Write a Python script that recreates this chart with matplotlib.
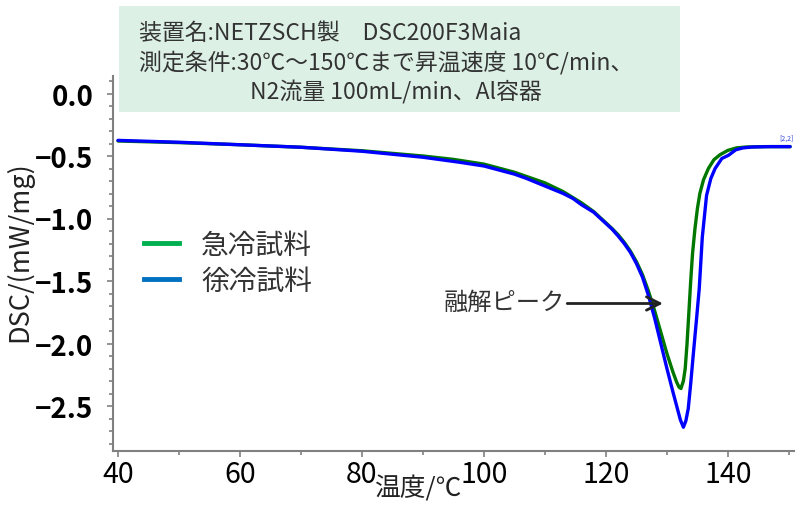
import matplotlib
matplotlib.use("Agg")
import matplotlib.pyplot as plt
from matplotlib.lines import Line2D
from matplotlib.ticker import MultipleLocator

plt.rcParams['font.family'] = ['Noto Sans CJK JP', 'DejaVu Sans']

# ---- data ----
temp_quench = [40, 50, 60, 70, 80, 90, 95, 100, 105, 110, 113, 116, 118, 120, 121, 122,
               123, 124, 125, 126, 127, 128, 129, 130, 131, 131.6, 132.0, 132.3, 132.7,
               133.0, 133.3, 133.6, 133.9, 134.2, 134.6, 135.0, 135.4, 136.0, 136.8,
               137.7, 138.7, 140.0, 141.4, 143.0, 146.0, 150.2]
dsc_quench = [-0.38, -0.393, -0.41, -0.43, -0.458, -0.50, -0.527, -0.565, -0.63, -0.715,
              -0.785, -0.875, -0.945, -1.035, -1.08, -1.13, -1.19, -1.26, -1.345, -1.45,
              -1.585, -1.74, -1.91, -2.08, -2.23, -2.31, -2.35, -2.36, -2.30, -2.20,
              -2.00, -1.75, -1.50, -1.28, -1.08, -0.92, -0.80, -0.69, -0.60, -0.53,
              -0.49, -0.455, -0.435, -0.428, -0.425, -0.425]

temp_slow = [40, 50, 60, 70, 80, 90, 96, 100, 105, 107, 110, 113, 114.6, 116, 118, 119,
             120, 121, 122, 123, 124, 125, 126, 127, 128, 129, 130, 131, 131.6, 132.2,
             132.7, 133.1, 133.5, 133.9, 134.3, 134.9, 135.3, 135.8, 136.5, 137.2,
             137.9, 139.0, 140.1, 141.3, 142.5, 144.0, 147.0, 150.2]
dsc_slow = [-0.375, -0.39, -0.41, -0.43, -0.462, -0.51, -0.55, -0.58, -0.645, -0.68,
            -0.74, -0.80, -0.84, -0.89, -0.95, -0.995, -1.04, -1.085, -1.14, -1.20,
            -1.27, -1.36, -1.47, -1.62, -1.80, -2.00, -2.20, -2.39, -2.50, -2.61,
            -2.67, -2.62, -2.52, -2.32, -2.10, -1.78, -1.56, -1.15, -0.815, -0.68,
            -0.60, -0.52, -0.494, -0.45, -0.435, -0.428, -0.425, -0.425]

legend_labels = ['急冷試料', '徐冷試料']
legend_colors = ['#00B050', '#0070C0']
xlabel = '温度/℃'
ylabel = 'DSC/(mW/mg)'
info_lines = ['装置名:NETZSCH製\u3000DSC200F3Maia',
              '測定条件:30℃～150℃まで昇温速度 10℃/min、',
              'N2流量 100mL/min、Al容器']
peak_label = '融解ピーク'

# ---- figure ----
W, H = 795, 506
fig = plt.figure(figsize=(W / 100, H / 100), dpi=100)
ax = fig.add_axes([113 / W, 1 - 452 / H, (W - 113) / W, (452 - 77) / H])

ax.plot(temp_quench, dsc_quench, color='#007800', lw=2.4, solid_capstyle='round',
        solid_joinstyle='round', zorder=3)
ax.plot(temp_slow, dsc_slow, color='#0000FF', lw=2.4, solid_capstyle='round',
        solid_joinstyle='round', zorder=4)

ax.set_xlim(39.18, 151.0)
ax.set_ylim(-2.86, 0.14)

for s in ['top', 'right']:
    ax.spines[s].set_visible(False)
for s in ['left', 'bottom']:
    ax.spines[s].set_color('#808080')
    ax.spines[s].set_linewidth(1.5)

ax.xaxis.set_major_locator(MultipleLocator(20))
ax.xaxis.set_minor_locator(MultipleLocator(10))
ax.yaxis.set_minor_locator(MultipleLocator(0.1))
ax.tick_params(which='both', direction='out', color='#808080', width=1.2)
ax.tick_params(which='major', length=4)
ax.tick_params(which='minor', length=3)
ax.tick_params(axis='x', labelsize=20.5, pad=2, labelcolor='black')
ax.tick_params(axis='y', labelsize=20, pad=10, labelcolor='black')
ax.set_yticks([0.0, -0.5, -1.0, -1.5, -2.0, -2.5])
ax.set_yticklabels(['0.0', '\u22120.5', '\u22121.0', '\u22121.5', '\u22122.0', '\u22122.5'],
                   fontweight='bold', fontsize=20)

ax.set_xlabel(xlabel, fontsize=18.5, color='#222222')
ax.xaxis.set_label_coords((419 - 113) / (W - 113), -(476 - 452) / (452 - 77))
ax.set_ylabel(ylabel, fontsize=19.5, color='#222222')
ax.yaxis.set_label_coords(-(113 - 33) / (W - 113), (452 - 252) / (452 - 77))

# legend with proxy handles
handles = [Line2D([], [], color=c, lw=3.5) for c in legend_colors]
leg = ax.legend(handles, legend_labels, loc='upper left',
                bbox_to_anchor=(144 / W, 1 - 231 / H), bbox_transform=fig.transFigure,
                frameon=False, fontsize=20, handlelength=1.25, handletextpad=0.8,
                labelspacing=0.2, borderpad=0, borderaxespad=0)
for t in leg.get_texts():
    t.set_color('#333333')

# info box
fig.patches.append(plt.Rectangle((119 / W, 1 - 113 / H), (680 - 119) / W, (113 - 7) / H,
                                 transform=fig.transFigure, facecolor='#DCF0E6',
                                 edgecolor='none', zorder=5))
fs_box = 16.5
fig.text(139 / W, 1 - 33 / H, info_lines[0], fontsize=fs_box, color='#333333',
         va='center', ha='left', zorder=6)
fig.text(139 / W, 1 - 63 / H, info_lines[1], fontsize=fs_box, color='#333333',
         va='center', ha='left', zorder=6)
fig.text(250 / W, 1 - 92 / H, info_lines[2], fontsize=fs_box, color='#333333',
         va='center', ha='left', zorder=6)

# annotation
ax.text(93.3, -1.665, peak_label, fontsize=17.5, color='#333333', va='center', ha='left')
ax.annotate('', xy=(129.8, -1.68), xytext=(113.2, -1.68),
            arrowprops=dict(arrowstyle='->', color='#222222', lw=2,
                            mutation_scale=24), zorder=6)

ax.text(150.8, -0.385, '[2,2]', fontsize=5, color='#3344DD', va='bottom', ha='right')

fig.savefig('out.png', dpi=100)
